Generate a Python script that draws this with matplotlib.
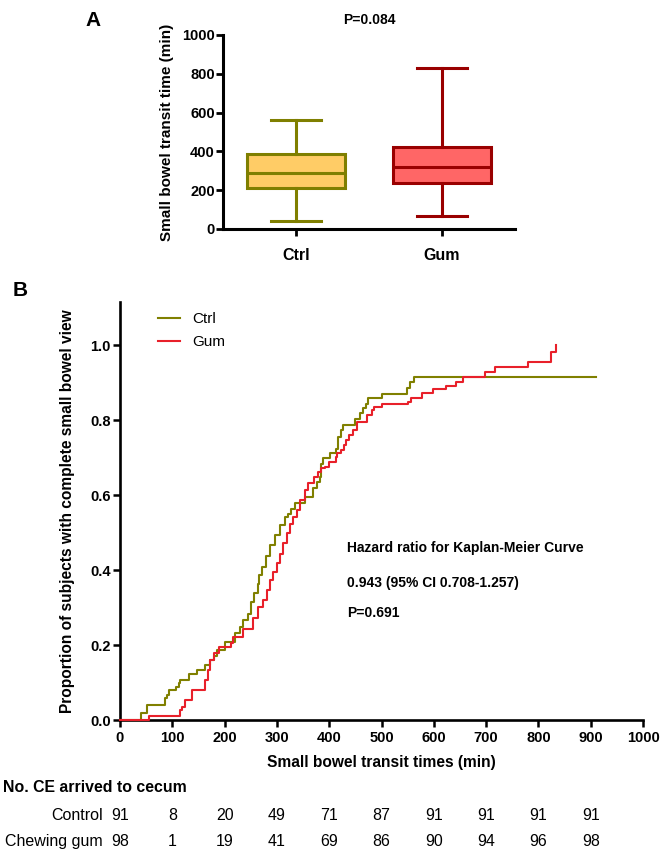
import matplotlib
matplotlib.use("Agg")
import matplotlib.pyplot as plt
import matplotlib.transforms as mtransforms
from matplotlib.ticker import FormatStrFormatter

plt.rcParams['font.family'] = ['Liberation Sans', 'DejaVu Sans']

# ---------------- data ----------------
# Panel A box plot summary (min)
groups = ["Ctrl", "Gum"]
box_whislo = [41, 67]
box_q1 = [211, 237]
box_med = [288, 320]
box_q3 = [386, 423]
box_whishi = [562, 830]
p_value_a = "P=0.084"

# Panel B Kaplan-Meier style cumulative curves (time in min, proportion)
ctrl_t = [0, 41, 51, 86, 90, 93, 108, 112, 115, 131, 147, 162, 172, 180, 185,
          200, 220, 229, 235, 245, 250, 256, 263, 266, 271, 280, 287, 296, 305,
          315, 322, 327, 335, 354, 369, 376, 382, 385, 388, 402, 413, 417, 422,
          427, 450, 458, 464, 470, 475, 500, 548, 554, 563, 910]
ctrl_p = [0.0, 0.018, 0.040, 0.058, 0.067, 0.080, 0.089, 0.098, 0.108, 0.123,
          0.133, 0.147, 0.160, 0.170, 0.187, 0.209, 0.231, 0.249, 0.267, 0.284,
          0.316, 0.338, 0.364, 0.387, 0.409, 0.437, 0.467, 0.493, 0.520, 0.542,
          0.550, 0.564, 0.578, 0.596, 0.618, 0.636, 0.649, 0.684, 0.698, 0.711,
          0.724, 0.756, 0.773, 0.788, 0.804, 0.818, 0.831, 0.844, 0.858, 0.869,
          0.885, 0.902, 0.915, 0.915]
gum_t = [0, 55, 115, 118, 124, 137, 162, 168, 172, 180, 189, 212, 217, 236, 255,
         264, 274, 281, 287, 293, 300, 306, 312, 319, 325, 331, 338, 344, 354,
         360, 370, 378, 384, 392, 400, 413, 415, 422, 428, 432, 437, 446, 453,
         472, 481, 486, 500, 551, 556, 577, 599, 623, 642, 655, 698, 717, 781,
         825, 834]
gum_p = [0.0, 0.010, 0.027, 0.036, 0.053, 0.080, 0.107, 0.133, 0.160, 0.178,
         0.196, 0.205, 0.222, 0.244, 0.271, 0.302, 0.320, 0.347, 0.373, 0.396,
         0.418, 0.444, 0.471, 0.498, 0.524, 0.542, 0.560, 0.587, 0.613, 0.631,
         0.649, 0.662, 0.671, 0.676, 0.689, 0.702, 0.711, 0.720, 0.733, 0.747,
         0.760, 0.773, 0.796, 0.813, 0.827, 0.836, 0.844, 0.849, 0.860, 0.871,
         0.883, 0.892, 0.902, 0.915, 0.929, 0.942, 0.955, 0.982, 1.0]

hr_lines = ["Hazard ratio for Kaplan-Meier Curve",
            "0.943 (95% CI 0.708-1.257)",
            "P=0.691"]

# number-at-event table
table_times = [0, 100, 200, 300, 400, 500, 600, 700, 800, 900]
table_rows = ["Control", "Chewing gum"]
control_counts = [91, 8, 20, 49, 71, 87, 91, 91, 91, 91]
gum_counts = [98, 1, 19, 41, 69, 86, 90, 94, 96, 98]

# ---------------- styling ----------------
olive = "#7f7f00"
ctrl_fill = "#ffcc66"
gum_fill = "#ff6666"
gum_edge = "#990000"
km_ctrl = "#808000"
km_gum = "#e8202a"

W, H = 662, 855
fig = plt.figure(figsize=(W / 100, H / 100), dpi=100)

def fx(px):
    return px / W

def fy(py):
    return 1 - py / H

# ---------------- Panel A ----------------
axA = fig.add_axes([fx(223), fy(229), fx(515) - fx(223), fy(35) - fy(229)])
stats = []
for i, g in enumerate(groups):
    stats.append(dict(label=g, whislo=box_whislo[i], q1=box_q1[i], med=box_med[i],
                      q3=box_q3[i], whishi=box_whishi[i], fliers=[]))
pos = [1, 2]
bp = axA.bxp(stats, positions=pos, widths=0.67, capwidths=0.345, patch_artist=True,
             showfliers=False)
fills = [ctrl_fill, gum_fill]
edges = [olive, gum_edge]
lw_a = 2.2
for i in range(2):
    bp['boxes'][i].set_facecolor(fills[i])
    bp['boxes'][i].set_edgecolor(edges[i])
    bp['boxes'][i].set_linewidth(lw_a)
    bp['medians'][i].set_color(edges[i])
    bp['medians'][i].set_linewidth(lw_a)
    for k in (2 * i, 2 * i + 1):
        bp['whiskers'][k].set_color(edges[i])
        bp['whiskers'][k].set_linewidth(lw_a)
        bp['caps'][k].set_color(edges[i])
        bp['caps'][k].set_linewidth(lw_a)

axA.set_xlim(0.5, 2.5)
axA.set_ylim(0, 1000)
axA.set_yticks([0, 200, 400, 600, 800, 1000])
axA.set_xticks(pos)
axA.set_xticklabels(groups, fontsize=11.5, fontweight='bold')
for lab in axA.get_yticklabels():
    lab.set_fontsize(10.5)
    lab.set_fontweight('bold')
for s in ('top', 'right'):
    axA.spines[s].set_visible(False)
for s in ('left', 'bottom'):
    axA.spines[s].set_linewidth(2.2)
axA.tick_params(axis='y', length=5, width=2.0, pad=1)
axA.tick_params(axis='x', length=5, width=2.0, pad=9)
axA.set_ylabel("Small bowel transit time (min)", fontsize=11, fontweight='bold', labelpad=6)
fig.text(fx(369), fy(20), p_value_a, fontsize=10, fontweight='bold', ha='center', va='center')
fig.text(fx(93), fy(20), "A", fontsize=15, fontweight='bold', ha='center', va='center')

# ---------------- Panel B ----------------
axB = fig.add_axes([fx(120), fy(720), fx(643) - fx(120), fy(302) - fy(720)])
axB.step(ctrl_t, ctrl_p, where='post', color=km_ctrl, lw=1.5, label="Ctrl",
         zorder=3, clip_on=False)
axB.step(gum_t, gum_p, where='post', color=km_gum, lw=1.5, label="Gum",
         zorder=3, clip_on=False)
axB.set_xlim(0, 1000)
axB.set_ylim(0, 1.115)
axB.set_xticks(table_times + [1000])
axB.set_yticks([0, 0.2, 0.4, 0.6, 0.8, 1.0])
axB.yaxis.set_major_formatter(FormatStrFormatter('%.1f'))
for lab in axB.get_xticklabels() + axB.get_yticklabels():
    lab.set_fontsize(10.5)
    lab.set_fontweight('bold')
for s in ('top', 'right'):
    axB.spines[s].set_visible(False)
for s in ('left', 'bottom'):
    axB.spines[s].set_linewidth(1.9)
axB.tick_params(axis='x', length=5, width=1.8, pad=3)
axB.tick_params(axis='y', length=5, width=1.8, pad=1.5)
axB.set_xlabel("Small bowel transit times (min)", fontsize=11.2, fontweight='bold', labelpad=7)
axB.set_ylabel("Proportion of subjects with complete small bowel view", fontsize=11.2,
               fontweight='bold', labelpad=11)
leg = axB.legend(loc='upper left', bbox_to_anchor=((158 - 120) / 523, (720 - 312) / 418),
                 frameon=False, fontsize=11, handlelength=1.45, handletextpad=0.8,
                 labelspacing=0.6, borderpad=0, borderaxespad=0)
fig.text(fx(20), fy(290), "B", fontsize=15, fontweight='bold', ha='center', va='center')

for i, line in enumerate(hr_lines):
    fig.text(fx(347), fy([548, 583, 613][i]), line, fontsize=10, fontweight='bold',
             ha='left', va='center')

# ---------------- table ----------------
fig.text(fx(3), fy(787), "No. CE arrived to cecum", fontsize=11.4, fontweight='bold',
         ha='left', va='center')
trans = mtransforms.blended_transform_factory(axB.transData, fig.transFigure)
row_y = [fy(815), fy(841)]
for r, (name, counts) in enumerate(zip(table_rows, [control_counts, gum_counts])):
    fig.text(fx(103), row_y[r], name, fontsize=11.5, ha='right', va='center')
    for t, c in zip(table_times, counts):
        fig.text(t, row_y[r], str(c), fontsize=11.5, ha='center', va='center', transform=trans)

fig.savefig("out.png", dpi=100)
